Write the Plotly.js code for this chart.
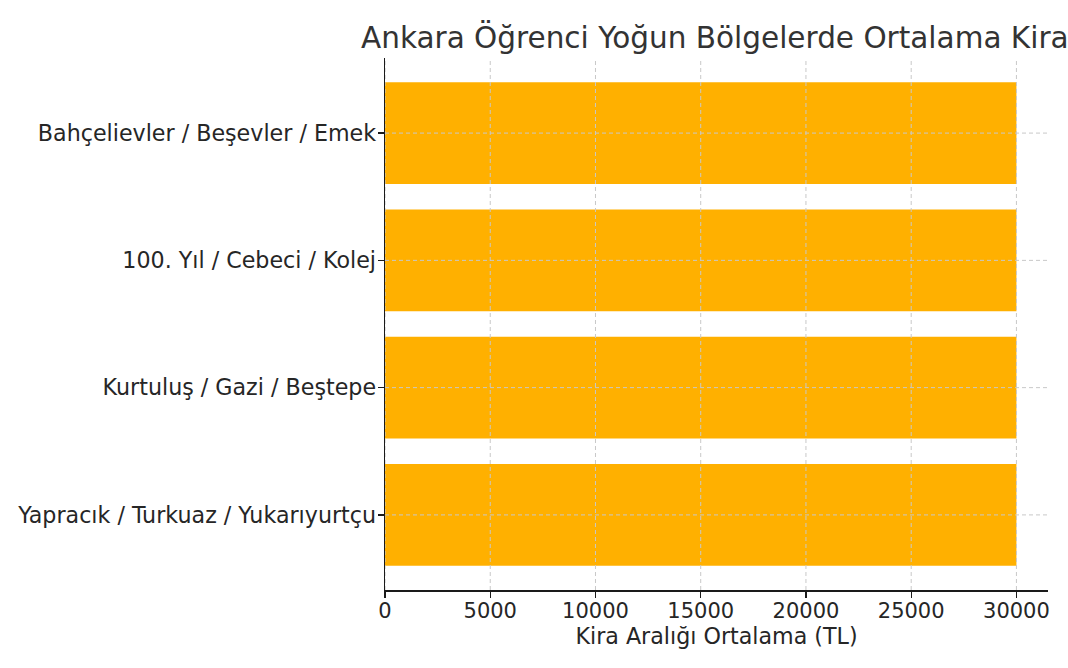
<!DOCTYPE html>
<html>
<head>
<meta charset="utf-8">
<script src="https://cdn.plot.ly/plotly-3.0.1.min.js"></script>
<style>html,body{margin:0;padding:0;background:#fff;}#chart{width:1068px;height:668px;}</style>
</head>
<body>
<div id="chart"></div>
<script>
// Data (bottom to top, as in the reference)
const regions = [
  "Yapracık / Turkuaz / Yukarıyurtçu",
  "Kurtuluş / Gazi / Beştepe",
  "100. Yıl / Cebeci / Kolej",
  "Bahçelievler / Beşevler / Emek"
];
const avgRent = [30000, 30000, 30000, 30000];
const xTicks = [0, 5000, 10000, 15000, 20000, 25000, 30000];

const titleText = "Ankara Öğrenci Yoğun Bölgelerde Ortalama Kira";
const xTitle = "Kira Aralığı Ortalama (TL)";

const gridStyle = {color: "#c8c8c8", width: 1, dash: "4px,3px"};
const shapes = [];
xTicks.forEach(v => {
  shapes.push({type: "line", xref: "x", yref: "paper", x0: v, x1: v, y0: 0, y1: 1,
    line: gridStyle, layer: "above"});
});
regions.forEach((r, i) => {
  shapes.push({type: "line", xref: "paper", yref: "y", x0: 0, x1: 1, y0: i, y1: i,
    line: gridStyle, layer: "above"});
});

const trace = {
  type: "bar",
  orientation: "h",
  x: avgRent,
  y: regions,
  width: 0.8,
  marker: {color: "#FFB000"},
  hoverinfo: "x+y"
};

const layout = {
  width: 1068,
  height: 668,
  paper_bgcolor: "#ffffff",
  plot_bgcolor: "#ffffff",
  font: {family: "DejaVu Sans", color: "#262626", size: 20},
  margin: {l: 385, r: 20, t: 58, b: 78, pad: 0},
  showlegend: false,
  title: {
    text: titleText,
    font: {family: "DejaVu Sans", size: 29.5, color: "#333333"},
    xref: "container", x: 361 / 1068, xanchor: "left",
    yref: "container", y: 1 - 38 / 668, yanchor: "middle"
  },
  xaxis: {
    range: [0, 31500],
    tickmode: "array",
    tickvals: xTicks,
    ticktext: xTicks.map(String),
    showgrid: false,
    zeroline: false,
    showline: true,
    linecolor: "#1a1a1a",
    linewidth: 1.5,
    ticks: "outside",
    ticklen: 6,
    tickwidth: 1.3,
    tickcolor: "#1a1a1a",
    ticklabelstandoff: -5,
    tickfont: {size: 21, color: "#262626"},
    title: {text: xTitle, font: {size: 22.2, color: "#262626"}, standoff: 3},
    fixedrange: true
  },
  yaxis: {
    type: "category",
    categoryorder: "array",
    categoryarray: regions,
    range: [-0.59, 3.59],
    showgrid: false,
    zeroline: false,
    showline: true,
    linecolor: "#1a1a1a",
    linewidth: 1.5,
    ticks: "outside",
    ticklen: 6,
    tickwidth: 1.3,
    tickcolor: "#1a1a1a",
    ticklabelstandoff: -3,
    tickfont: {size: 22.2, color: "#262626"},
    fixedrange: true
  },
  shapes: shapes
};

Plotly.newPlot("chart", [trace], layout, {displayModeBar: false, staticPlot: true});
</script>
</body>
</html>
